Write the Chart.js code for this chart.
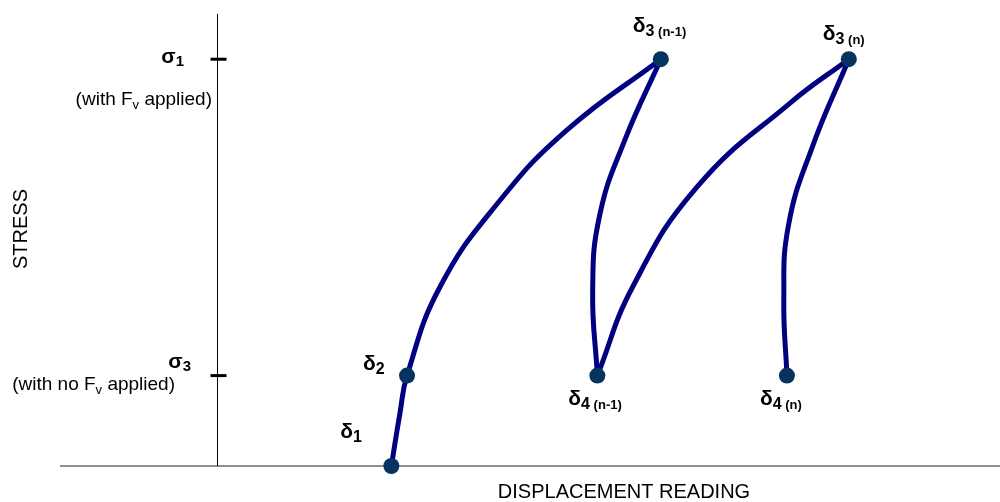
<!DOCTYPE html>
<html>
<head>
<meta charset="utf-8">
<script src="https://cdn.jsdelivr.net/npm/chart.js@4"></script>
<style>
  html, body { margin: 0; padding: 0; background: #fff; overflow: hidden; }
  canvas { display: block; }
</style>
</head>
<body>
<canvas id="myChart" width="1000" height="502"></canvas>
<script>
// displacement (x) vs stress (y), arbitrary units
// first loading: delta1 -> delta2 -> delta3 (n-1)
const load1X = [2.23, 2.34, 2.43, 2.85, 3.60, 4.47, 5.67];
const load1Y = [0, 1.17, 2.0, 3.96, 5.84, 7.43, 9.0];
// unloading: delta3 (n-1) -> delta4 (n-1)
const unload1X = [5.67, 5.21, 4.89, 4.80, 4.86];
const unload1Y = [9.0, 7.21, 5.55, 3.89, 2.0];
// reloading: delta4 (n-1) -> delta3 (n)
const load2X = [4.86, 5.31, 6.13, 7.32, 8.07];
const load2Y = [2.0, 3.96, 6.17, 8.03, 9.0];
// unloading: delta3 (n) -> delta4 (n)
const unload2X = [8.07, 7.60, 7.30, 7.24, 7.28];
const unload2Y = [9.0, 7.04, 5.33, 3.67, 2.0];

// reading points
const markerSub = ["1", "2", "3", "4", "3", "4"];
const markerCycle = ["", "", " (n-1)", " (n-1)", " (n)", " (n)"];
const markerX = [2.23, 2.43, 5.67, 4.86, 8.07, 7.28];
const markerY = [0, 2, 9, 2, 9, 2];

// stress levels on the y axis
const stressLevels = [9, 2];
const stressSub = ["1", "3"];
const stressNote = [["(with F", "v", " applied)"], ["(with no F", "v", " applied)"]];

const xTitle = "DISPLACEMENT READING";
const yTitle = "STRESS";

const toPts = (xs, ys) => xs.map((v, i) => ({ x: v, y: ys[i] }));

const FONT = '"Liberation Sans", Arial, sans-serif';

// draw a run of text pieces [text, font, dy] starting at x
function runText(ctx, x, y, parts, draw) {
  let cx = x;
  parts.forEach(([t, f, dy]) => {
    ctx.font = f;
    if (draw) ctx.fillText(t, cx, y + dy);
    cx += ctx.measureText(t).width;
  });
  return cx - x;
}

// label offsets from each marker (px): left edge, baseline
const markerOffset = [[-51, -28], [-44, -6], [-28, -27], [-29, 29], [-26, -19], [-27, 29]];

const sketch = {
  id: "sketch",
  beforeDatasetsDraw(chart) {
    const { ctx, chartArea: a } = chart;
    const xs = chart.scales.x, ys = chart.scales.y;
    const x0 = Math.round(xs.getPixelForValue(0)) + 0.5;
    const y0 = ys.getPixelForValue(0);
    ctx.save();
    ctx.strokeStyle = "#6a6a6a";
    ctx.lineWidth = 1.5;
    ctx.beginPath(); ctx.moveTo(a.left, y0); ctx.lineTo(a.right, y0); ctx.stroke();
    ctx.strokeStyle = "#000";
    ctx.lineWidth = 1;
    ctx.beginPath(); ctx.moveTo(x0, a.top); ctx.lineTo(x0, y0); ctx.stroke();
    ctx.lineWidth = 3;
    stressLevels.forEach(v => {
      const py = ys.getPixelForValue(v);
      ctx.beginPath(); ctx.moveTo(x0 - 7, py); ctx.lineTo(x0 + 9, py); ctx.stroke();
    });
    ctx.restore();
  },
  afterDraw(chart) {
    const { ctx } = chart;
    const xs = chart.scales.x, ys = chart.scales.y;
    ctx.save();
    ctx.fillStyle = "#000";
    ctx.textBaseline = "alphabetic";
    ctx.textAlign = "left";

    // delta labels
    markerX.forEach((v, i) => {
      const px = xs.getPixelForValue(v), py = ys.getPixelForValue(markerY[i]);
      const parts = [["δ", "bold 21px " + FONT, 0], [markerSub[i], "bold 16px " + FONT, 4]];
      if (markerCycle[i]) parts.push([markerCycle[i], "bold 13px " + FONT, 4]);
      runText(ctx, px + markerOffset[i][0], py + markerOffset[i][1], parts, true);
    });

    // sigma labels and notes
    const sigRight = [184, 191], sigDy = [4, -8];
    const noteRight = [212, 175], noteDy = [46, 14];
    stressLevels.forEach((v, i) => {
      const py = ys.getPixelForValue(v);
      const sp = [["σ", "bold 21px " + FONT, 0], [stressSub[i], "bold 15px " + FONT, 3]];
      const sw = runText(ctx, 0, 0, sp, false);
      runText(ctx, sigRight[i] - sw, py + sigDy[i], sp, true);
      const np = [[stressNote[i][0], "19px " + FONT, 0], [stressNote[i][1], "13px " + FONT, 4], [stressNote[i][2], "19px " + FONT, 0]];
      const nw = runText(ctx, 0, 0, np, false);
      runText(ctx, noteRight[i] - nw, py + noteDy[i], np, true);
    });

    // axis titles
    ctx.font = "20px " + FONT;
    ctx.textAlign = "center";
    ctx.fillText(xTitle, 624, 498);
    ctx.translate(27, 229);
    ctx.rotate(-Math.PI / 2);
    ctx.fillText(yTitle, 0, 0);
    ctx.restore();
  }
};

const curve = (pts) => ({
  data: pts,
  showLine: true,
  tension: 0.45,
  borderColor: "#000080",
  borderWidth: 5,
  pointRadius: 0,
  clip: false,
  order: 1,
});

const config = {
  type: "scatter",
  data: {
    datasets: [
      {
        data: toPts(markerX, markerY),
        pointRadius: 8,
        pointBackgroundColor: "#06335f",
        pointBorderWidth: 0,
        clip: false,
        order: 0,
      },
      curve(toPts(load1X, load1Y)),
      curve(toPts(unload1X, unload1Y)),
      curve(toPts(load2X, load2Y)),
      curve(toPts(unload2X, unload2Y)),
    ],
  },
  options: {
    responsive: false,
    animation: false,
    events: [],
    layout: { autoPadding: false, padding: { left: 60, right: 0, top: 14, bottom: 36 } },
    plugins: { legend: { display: false }, tooltip: { enabled: false } },
    scales: {
      x: { type: "linear", min: -2, max: 10, display: false },
      y: { type: "linear", min: 0, max: 10, display: false },
    },
  },
  plugins: [sketch],
};

const myChart = new Chart(document.getElementById("myChart"), config);
</script>
</body>
</html>
